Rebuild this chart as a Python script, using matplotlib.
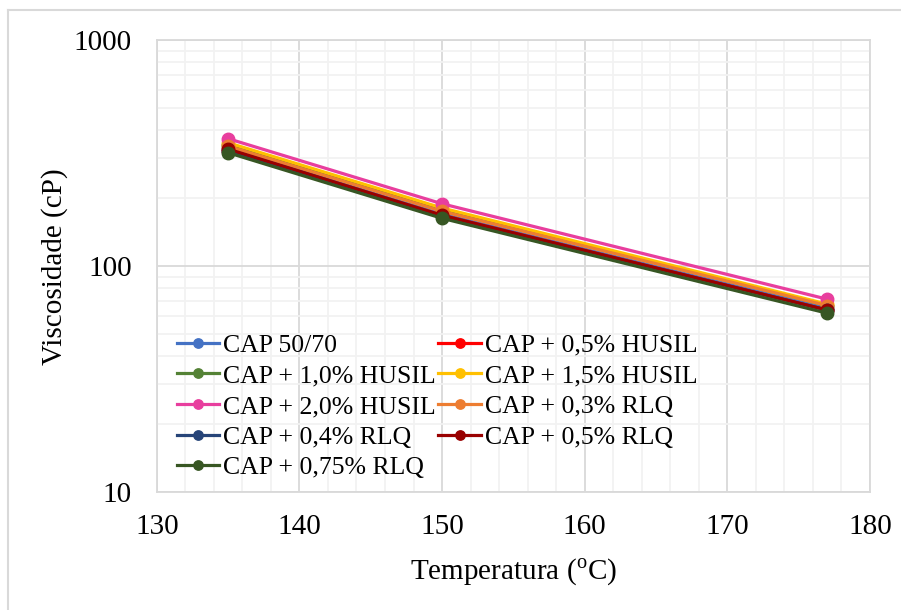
"""
Viscosidade x temperatura - CAP 50/70 com HUSIL e RLQ
"""

import matplotlib
matplotlib.use('Agg')
import matplotlib.pyplot as plt
from matplotlib.lines import Line2D
from matplotlib.ticker import FixedLocator, NullFormatter

plt.rcParams['font.family'] = ['Liberation Serif', 'DejaVu Serif']
plt.rcParams['mathtext.fontset'] = 'custom'
plt.rcParams['mathtext.rm'] = 'Liberation Serif'

#
#  Data
#

temps = [135, 150, 177]

labels = ['CAP 50/70', 'CAP + 0,5% HUSIL', 'CAP + 1,0% HUSIL',
          'CAP + 1,5% HUSIL', 'CAP + 2,0% HUSIL', 'CAP + 0,3% RLQ',
          'CAP + 0,4% RLQ', 'CAP + 0,5% RLQ', 'CAP + 0,75% RLQ']

cap_50_70 = [330, 170, 65]
husil_05 = [325, 168, 64]
husil_10 = [345, 178, 67]
husil_15 = [352, 181, 68]
husil_20 = [367, 189, 71.5]
rlq_03 = [340, 175, 67]
rlq_04 = [325, 167, 64]
rlq_05 = [330, 168, 64]
rlq_075 = [318, 163, 62]

series = [cap_50_70, husil_05, husil_10, husil_15, husil_20,
          rlq_03, rlq_04, rlq_05, rlq_075]

colors = ['#4472C4', '#FF0000', '#548235', '#FFC000', '#E83E9E',
          '#ED7D31', '#264478', '#990000', '#375623']

#
#  Plot
#

fig = plt.figure(figsize=(9.01, 6.10), dpi=100)
ax = fig.add_axes([0.174, 0.193, 0.7916, 0.741])

handles = []
for vals, lab, col in zip(series, labels, colors):
    h, = ax.plot(temps, vals, color=col, lw=2.3, marker='o', ms=9,
                 label=lab, zorder=3)
    handles.append(h)

ax.set_yscale('log')
ax.set_xlim(130, 180)
ax.set_ylim(10, 1000)

ax.set_xticks([130, 140, 150, 160, 170, 180])
ax.xaxis.set_minor_locator(FixedLocator(range(130, 181, 2)))
ax.yaxis.set_minor_formatter(NullFormatter())
ax.set_yticks([10, 100, 1000])
ax.set_yticklabels(['10', '100', '1000'])

ax.grid(which='minor', color='#F2F2F2', lw=1.3, zorder=0)
ax.grid(which='major', color='#D9D9D9', lw=1.3, zorder=0)
ax.tick_params(which='both', length=0, labelsize=21)
ax.tick_params(axis='x', pad=16)
ax.tick_params(axis='y', pad=18)

for sp in ax.spines.values():
    sp.set_color('#D9D9D9')
    sp.set_linewidth(1.3)

ax.set_xlabel(r'Temperatura ($^{\mathregular{o}}$C)', fontsize=21, labelpad=12)
ax.set_ylabel('Viscosidade (cP)', fontsize=21, labelpad=4)

#  Legend fills row by row in the original, so reorder for column filling
order = [0, 2, 4, 6, 8, 1, 3, 5, 7]
ax.legend([handles[i] for i in order], [labels[i] for i in order],
          ncol=2, loc='lower left', bbox_to_anchor=(0.01, 0.0),
          frameon=False, fontsize=18.5, handlelength=1.65, handletextpad=0.15,
          labelspacing=0.3, columnspacing=0.1, borderaxespad=0.2,
          borderpad=0.3, markerscale=0.75)

#  Outer border, only left and top edges visible in the original
fig.add_artist(Line2D([8 / 901, 8 / 901], [0, 1 - 10 / 610],
                      color='#D9D9D9', lw=1.5, transform=fig.transFigure))
fig.add_artist(Line2D([8 / 901, 1], [1 - 10 / 610, 1 - 10 / 610],
                      color='#D9D9D9', lw=1.5, transform=fig.transFigure))

fig.savefig('out.png', dpi=100)
